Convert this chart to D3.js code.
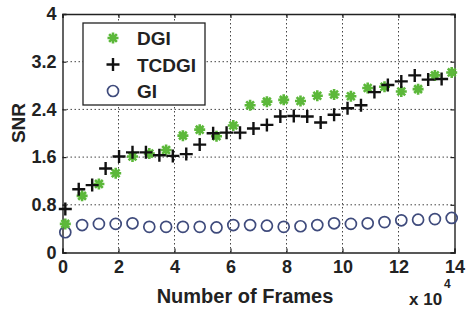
<!DOCTYPE html>
<meta charset="utf-8">
<script src="https://d3js.org/d3.v7.min.js"></script>
<style>
  body { margin: 0; background: #fff; }
  text { font-family: "Liberation Sans", Arial, sans-serif; font-weight: bold; }
</style>
<div id="my_dataviz"></div>
<script>
  // frames (x 10^4) and SNR values
  var dgiX = [0.1, 0.7, 1.3, 1.9, 2.5, 3.1, 3.7, 4.3, 4.9, 5.5, 6.1, 6.7,
              7.3, 7.9, 8.5, 9.1, 9.7, 10.3, 10.9, 11.5, 12.1, 12.7, 13.3, 13.9];
  var dgiY = [0.48, 0.95, 1.15, 1.33, 1.61, 1.66, 1.72, 1.96, 2.06, 1.95, 2.13, 2.47,
              2.53, 2.56, 2.54, 2.63, 2.65, 2.62, 2.76, 2.78, 2.70, 2.74, 2.97, 3.02];

  var tcdgiX = [0.1, 0.58, 1.06, 1.54, 2.02, 2.5, 2.98, 3.46, 3.94, 4.42, 4.9, 5.38,
                5.86, 6.34, 6.82, 7.3, 7.78, 8.26, 8.74, 9.22, 9.7, 10.18, 10.66,
                11.14, 11.62, 12.1, 12.58, 13.06, 13.54];
  var tcdgiY = [0.73, 1.06, 1.13, 1.41, 1.61, 1.68, 1.68, 1.63, 1.62, 1.65, 1.81, 2.0,
                2.01, 2.01, 2.08, 2.14, 2.28, 2.29, 2.28, 2.18, 2.31, 2.42, 2.47,
                2.69, 2.81, 2.87, 2.97, 2.90, 2.91];

  var giX = dgiX;
  var giY = [0.34, 0.46, 0.48, 0.48, 0.49, 0.43, 0.43, 0.43, 0.43, 0.42, 0.46, 0.46,
             0.45, 0.43, 0.44, 0.46, 0.49, 0.48, 0.49, 0.51, 0.54, 0.55, 0.56, 0.58];

  var xTicks = [0, 2, 4, 6, 8, 10, 12, 14];
  var yTicks = [0, 0.8, 1.6, 2.4, 3.2, 4];
  var legendNames = ["DGI", "TCDGI", "GI"];

  var width = 466, height = 309;
  var green = "#5cb83a", blue = "#3f4b7c";

  var svg = d3.select("#my_dataviz")
    .append("svg")
    .attr("width", width)
    .attr("height", height);

  var x = d3.scaleLinear().domain([0, 14]).range([62.5, 454.5]);
  var y = d3.scaleLinear().domain([0, 4]).range([252.5, 14]);

  // dotted grid
  svg.append("g")
    .selectAll("line")
    .data(xTicks.slice(1, -1))
    .enter().append("line")
    .attr("x1", function (d) { return x(d); })
    .attr("x2", function (d) { return x(d); })
    .attr("y1", y(0)).attr("y2", y(4))
    .style("stroke", "#444").style("stroke-width", 1)
    .style("stroke-dasharray", "1.5,2.5");

  svg.append("g")
    .selectAll("line")
    .data(yTicks.slice(1, -1))
    .enter().append("line")
    .attr("x1", x(0)).attr("x2", x(14))
    .attr("y1", function (d) { return y(d); })
    .attr("y2", function (d) { return y(d); })
    .style("stroke", "#444").style("stroke-width", 1)
    .style("stroke-dasharray", "1.5,2.5");

  // axes, ticks pointing inward (matlab style)
  var noLabel = function () { return ""; };
  var bottomAxis = d3.axisBottom(x).tickValues(xTicks).tickSize(-4).tickPadding(8)
    .tickFormat(d3.format("d"));
  var leftAxis = d3.axisLeft(y).tickValues(yTicks).tickSize(-4).tickPadding(6)
    .tickFormat(function (d) { return d; });
  var topAxis = d3.axisTop(x).tickValues(xTicks).tickSize(-4).tickFormat(noLabel);
  var rightAxis = d3.axisRight(y).tickValues(yTicks).tickSize(-4).tickFormat(noLabel);

  function styleAxis(g) {
    g.select(".domain").style("stroke", "#222").style("stroke-width", 1.4);
    g.selectAll(".tick line").style("stroke", "#222").style("stroke-width", 1.2);
    g.selectAll("text").style("font-size", "18px").style("fill", "#222")
      .style("font-family", "'Liberation Sans', Arial, sans-serif").style("font-weight", "bold");
  }

  svg.append("g").attr("transform", "translate(0," + y(0) + ")").call(bottomAxis).call(styleAxis);
  svg.append("g").attr("transform", "translate(" + x(0) + ",0)").call(leftAxis).call(styleAxis);
  svg.append("g").attr("transform", "translate(0," + y(4) + ")").call(topAxis).call(styleAxis);
  svg.append("g").attr("transform", "translate(" + x(14) + ",0)").call(rightAxis).call(styleAxis);

  // marker shapes
  function starPath(s) {
    var p = "";
    for (var k = 0; k < 4; k++) {
      var a = k * Math.PI / 4;
      p += "M" + (-s * Math.cos(a)) + "," + (-s * Math.sin(a)) + "L" + (s * Math.cos(a)) + "," + (s * Math.sin(a));
    }
    return p;
  }
  function plusPath(s) {
    return "M" + (-s) + ",0L" + s + ",0M0," + (-s) + "L0," + s;
  }

  function drawStar(sel) {
    sel.append("path").attr("d", starPath(5.5))
      .style("stroke", green).style("stroke-width", 2.6).style("fill", "none");
    sel.append("circle").attr("r", 2.8).style("fill", green);
  }
  function drawPlus(sel) {
    sel.append("path").attr("d", plusPath(6.5))
      .style("stroke", "#111").style("stroke-width", 2.4).style("fill", "none");
  }
  function drawCircle(sel) {
    sel.append("circle").attr("r", 5.5)
      .style("stroke", blue).style("stroke-width", 1.7).style("fill", "none");
  }

  function series(xs, ys, draw) {
    var pts = xs.map(function (d, i) { return [d, ys[i]]; });
    svg.append("g")
      .selectAll("g")
      .data(pts)
      .enter().append("g")
      .attr("transform", function (d) { return "translate(" + x(d[0]) + "," + y(d[1]) + ")"; })
      .call(draw);
  }

  series(giX, giY, drawCircle);
  series(dgiX, dgiY, drawStar);
  series(tcdgiX, tcdgiY, drawPlus);

  // legend
  var lg = svg.append("g");
  lg.append("rect")
    .attr("x", 83).attr("y", 23).attr("width", 122).attr("height", 82)
    .style("fill", "#fff").style("stroke", "#222").style("stroke-width", 1.3);

  var drawers = [drawStar, drawPlus, drawCircle];
  legendNames.forEach(function (name, i) {
    var row = lg.append("g").attr("transform", "translate(113," + (38 + i * 26.5) + ")");
    row.call(drawers[i]);
    row.append("text").attr("x", 24).attr("y", 7)
      .style("font-size", "19px").style("fill", "#222").text(name);
  });

  // axis titles
  svg.append("text")
    .attr("x", 245).attr("y", 303)
    .attr("text-anchor", "middle")
    .style("font-size", "20px").style("fill", "#222")
    .text("Number of Frames");

  svg.append("text")
    .attr("transform", "translate(25,123) rotate(-90)")
    .attr("text-anchor", "middle")
    .style("font-size", "19px").style("fill", "#222")
    .text("SNR");

  var ex = svg.append("text")
    .attr("x", 409).attr("y", 305)
    .style("font-size", "17px").style("fill", "#222");
  ex.append("tspan").text("x 10");
  ex.append("tspan").attr("dy", -17).attr("dx", 2).style("font-size", "12px").text("4");
</script>
